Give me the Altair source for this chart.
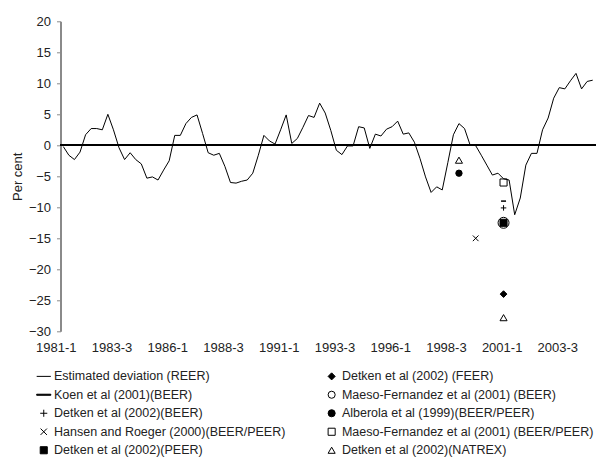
import altair as alt
import pandas as pd

# ---------------- data ----------------
quarters = [f"{y}-{q}" for y in range(1981, 2005) for q in range(1, 5)]

deviation = [
    -0.2, -1.6, -2.3, -1.1, 1.7, 2.7, 2.7, 2.5, 5.0, 2.5,
    -0.4, -2.3, -1.2, -2.3, -3.0, -5.3, -5.1, -5.6, -4.0, -2.5,
    1.6, 1.6, 3.5, 4.5, 4.9, 1.9, -1.2, -1.6, -1.3, -3.4,
    -6.0, -6.1, -5.8, -5.6, -4.5, -1.6, 1.6, 0.7, 0.2, 2.5,
    4.9, 0.3, 1.1, 2.9, 4.8, 4.5, 6.8, 5.2, 2.4, -0.8,
    -1.5, -0.1, -0.1, 3.0, 2.8, -0.5, 1.8, 1.5, 2.6, 3.0,
    3.9, 1.8, 2.0, 0.5, -2.1, -5.1, -7.6, -6.7, -7.2, -2.8,
    1.7, 3.5, 2.7, 0.05, -0.05, -1.6, -3.2, -4.8, -4.5, -5.4,
    -5.6, -11.2, -8.5, -3.2, -1.3, -1.3, 2.5, 4.4, 7.6, 9.3,
    9.1, 10.4, 11.6, 9.1, 10.3, 10.5,
]

tick_labels = ["1981-1", "1983-3", "1986-1", "1988-3", "1991-1",
               "1993-3", "1996-1", "1998-3", "2001-1", "2003-3"]

REER = "Estimated deviation (REER)"
KOEN = "Koen et al (2001)(BEER)"
DBEER = "Detken et al (2002)(BEER)"
HANSEN = "Hansen and Roeger (2000)(BEER/PEER)"
DPEER = "Detken et al (2002)(PEER)"
FEER = "Detken et al (2002) (FEER)"
MBEER = "Maeso-Fernandez et al (2001) (BEER)"
ALB = "Alberola et al (1999)(BEER/PEER)"
MBP = "Maeso-Fernandez et al (2001) (BEER/PEER)"
NATREX = "Detken et al (2002)(NATREX)"

marker_series = [NATREX, ALB, HANSEN, MBP, DBEER, MBEER, DPEER, FEER, NATREX]
marker_quarter = ["1998-4", "1998-4", "1999-3", "2000-4", "2000-4",
                  "2000-4", "2000-4", "2000-4", "2000-4"]
marker_value = [-2.4, -4.5, -15.0, -6.0, -10.1, -12.5, -12.5, -24.0, -27.8]

koen_quarter = ["2000-4"]
koen_value = [-9.0]

# ---------------- styling ----------------
FONT = "Liberation Sans"
TXT = "#222222"
FS = 13
LFS = 12.5

legend_order = [REER, KOEN, DBEER, HANSEN, DPEER, FEER, MBEER, ALB, MBP, NATREX]
shape_map = {
    REER: "M-2,0L2,0",
    FEER: "diamond",
    KOEN: "M-2,-0.15L2,-0.15L2,0.15L-2,0.15Z",
    MBEER: "circle",
    DBEER: "M-1,0L1,0M0,-1L0,1",
    ALB: "circle",
    HANSEN: "M-0.9,-0.9L0.9,0.9M-0.9,0.9L0.9,-0.9",
    MBP: "square",
    DPEER: "square",
    NATREX: "triangle-up",
}
fill_map = {
    REER: "transparent", FEER: "black", KOEN: "black", MBEER: "transparent",
    DBEER: "transparent", ALB: "black", HANSEN: "transparent",
    MBP: "transparent", DPEER: "black", NATREX: "transparent",
}
size_map = {NATREX: 50, ALB: 40, HANSEN: 40, MBP: 50, DBEER: 30,
            MBEER: 120, DPEER: 50, FEER: 45}

line_df = pd.DataFrame({"i": list(range(len(quarters))), "q": quarters, "v": deviation})
mk_df = pd.DataFrame({
    "i": [quarters.index(q) for q in marker_quarter],
    "v": marker_value,
    "series": marker_series,
    "sz": [size_map[s] for s in marker_series],
})
koen_df = pd.DataFrame({"i": [quarters.index(q) for q in koen_quarter],
                        "v": koen_value})
lab_df = pd.DataFrame({"i": [k * 10 for k in range(len(tick_labels))],
                       "label": tick_labels})

xscale = alt.Scale(domain=[-0.5, len(quarters) - 0.5], nice=False, zero=False)
yscale = alt.Scale(domain=[-30, 20], nice=False)

yaxis = alt.Axis(values=list(range(-30, 25, 5)), tickSize=4, tickColor="#8a8a8a",
                 tickWidth=1, domainColor="#8a8a8a", domainWidth=2, grid=False,
                 labelFont=FONT, labelFontSize=FS, labelColor=TXT, labelPadding=6,
                 title="Per cent", titleFont=FONT, titleFontSize=FS,
                 titleFontWeight="normal", titleColor=TXT, titleX=-43.5,
                 titleY=155, titleAngle=-90, titleBaseline="middle", titleAlign="center")

legend = alt.Legend(title=None, orient="none", legendX=-23, legendY=348.7,
                    columns=2, columnPadding=39.9, rowPadding=5.5, symbolSize=50,
                    symbolStrokeWidth=1, symbolStrokeColor="black",
                    labelFont=FONT, labelFontSize=LFS, labelColor=TXT,
                    labelOffset=4, padding=0, labelLimit=400)

X = alt.X("i:Q", scale=xscale, axis=None)
Y = alt.Y("v:Q", scale=yscale, axis=yaxis)

zero = alt.Chart(line_df).mark_rule(color="black", strokeWidth=1.1).encode(
    y=alt.Y(datum=0, scale=yscale, axis=yaxis),
    x=alt.value(0), x2=alt.value(535),
)

line = alt.Chart(line_df).mark_line(color="black", strokeWidth=1).encode(x=X, y=Y)

koen = alt.Chart(koen_df).mark_tick(orient="horizontal", size=5, thickness=1.5,
                                    color="black", opacity=1).encode(x=X, y=Y)

dom = legend_order
points = alt.Chart(mk_df).mark_point(strokeWidth=1, opacity=1).encode(
    x=X, y=Y,
    shape=alt.Shape("series:N", scale=alt.Scale(domain=dom,
                    range=[shape_map[s] for s in dom]), legend=legend),
    fill=alt.Fill("series:N", scale=alt.Scale(domain=dom,
                  range=[fill_map[s] for s in dom]), legend=legend),
    stroke=alt.Stroke("series:N", scale=alt.Scale(domain=dom,
                      range=["black"] * len(dom)), legend=legend),
    size=alt.Size("sz:Q", scale=None),
)

xlabels = alt.Chart(lab_df).mark_text(baseline="top", align="center", dx=-7,
                                      font=FONT, fontSize=FS, color=TXT).encode(
    x=X, y=alt.value(321), text="label:N",
)

chart = alt.layer(zero, line, koen, points, xlabels).properties(
    width=535, height=310,
    padding={"left": 52.5, "top": 13.3, "right": 9.5, "bottom": 127.7},
    autosize=alt.AutoSizeParams(type="none"),
    background="white",
).configure_view(stroke=None)

chart.save("out.html", embed_options={"renderer": "svg", "actions": False})
